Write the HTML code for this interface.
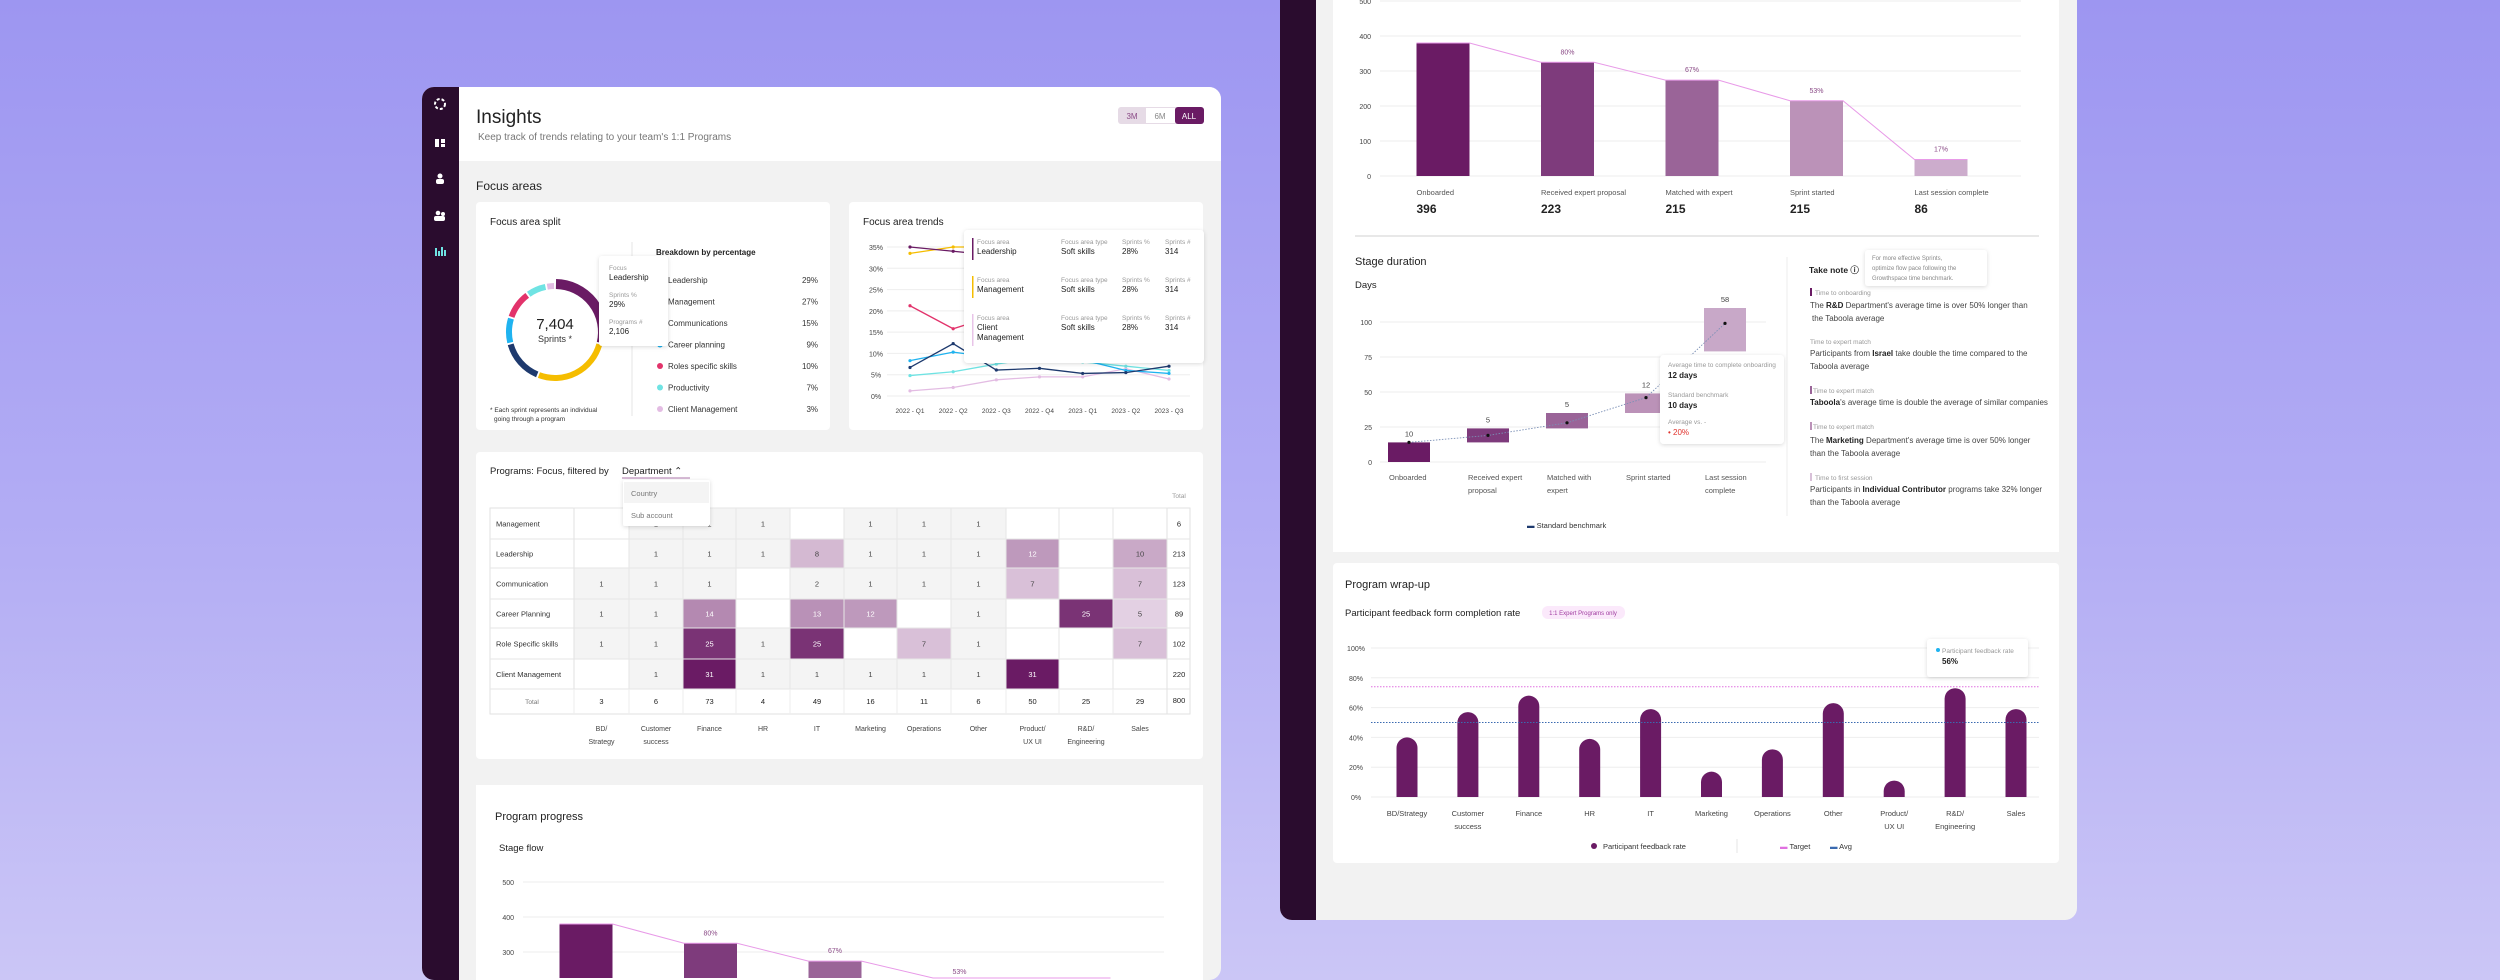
<!DOCTYPE html>
<html><head><meta charset="utf-8">
<style>
html,body{margin:0;padding:0;width:2500px;height:980px;overflow:hidden;}
body{background:linear-gradient(180deg,#9d96f1 0%,#b3adf4 55%,#cbc6f6 100%);font-family:"Liberation Sans",sans-serif;}
svg{display:block;}
svg text{font-family:"Liberation Sans",sans-serif;}
</style></head>
<body>
<svg id="root" width="2500" height="980" viewBox="0 0 2500 980" xmlns="http://www.w3.org/2000/svg">
<defs>
<filter id="sh" x="-20%" y="-20%" width="140%" height="140%"><feDropShadow dx="0" dy="1" stdDeviation="2" flood-color="#000" flood-opacity="0.15"/></filter>
<clipPath id="clipL"><rect x="422" y="87" width="799" height="893" rx="12"/></clipPath>
<clipPath id="clipR"><rect x="1280" y="-20" width="797" height="940" rx="12"/></clipPath>
</defs>
<!-- LEFT PANEL -->
<g clip-path="url(#clipL)">
<rect x="422" y="87" width="799" height="893" fill="#f2f2f2"/>
<rect x="422" y="87" width="37" height="893" fill="#2a0c2e"/>
<rect x="459" y="87" width="762" height="74" fill="#ffffff"/>
</g>
<g>
<circle cx="440" cy="104" r="5" fill="none" stroke="#fff" stroke-width="2" stroke-dasharray="3 2"/>
<g fill="#fff"><rect x="435" y="139" width="4" height="8"/><rect x="441" y="139" width="4" height="4"/><rect x="441" y="144" width="4" height="3"/></g>
<g fill="#fff"><circle cx="440" cy="176" r="2.5"/><rect x="436" y="179" width="8" height="5" rx="2"/></g>
<g fill="#fff"><circle cx="438" cy="213" r="2.3"/><circle cx="443" cy="214" r="2"/><rect x="434" y="216" width="11" height="5" rx="2"/></g>
<g fill="#6fe3e3"><rect x="435" y="248" width="2" height="8"/><rect x="438" y="251" width="2" height="5"/><rect x="441" y="247" width="2" height="9"/><rect x="444" y="250" width="2" height="6"/></g>
</g>
<text x="476" y="123" font-size="19" fill="#222">Insights</text>
<text x="478" y="140" font-size="10" fill="#777">Keep track of trends relating to your team's 1:1 Programs</text>
<g>
<rect x="1118" y="107" width="86" height="17" rx="3" fill="#e6dbe6"/>
<rect x="1146" y="108" width="29" height="15" fill="#fff"/>
<rect x="1175" y="107" width="29" height="17" rx="3" fill="#6a1b64"/>
<text x="1132" y="119" font-size="8" fill="#8a4a86" text-anchor="middle">3M</text>
<text x="1160" y="119" font-size="8" fill="#888" text-anchor="middle">6M</text>
<text x="1189" y="119" font-size="8" fill="#fff" text-anchor="middle">ALL</text>
</g>
<text x="476" y="190" font-size="12" fill="#222">Focus areas</text>

<rect x="476" y="202" width="354" height="228" rx="4" fill="#fff"/>
<rect x="849" y="202" width="354" height="228" rx="4" fill="#fff"/>
<rect x="476" y="452" width="727" height="307" rx="4" fill="#fff"/>
<rect x="476" y="785" width="727" height="195" fill="#fff"/>

<text x="490" y="225" font-size="10" fill="#222">Focus area split</text>
<text x="863" y="225" font-size="10" fill="#222">Focus area trends</text>
<line x1="632" y1="242" x2="632" y2="416" stroke="#e6e6e6"/>
<text x="656" y="255" font-size="8" font-weight="bold" fill="#222">Breakdown by percentage</text>
<text x="490" y="412" font-size="6.5" fill="#333">* Each sprint represents an individual</text>
<text x="494" y="421" font-size="6.5" fill="#333">going through a program</text>
<g id="donut"></g>
<g id="legendList"></g>
<text x="555" y="329" font-size="15" fill="#222" text-anchor="middle">7,404</text>
<text x="555" y="342" font-size="9" fill="#333" text-anchor="middle">Sprints *</text>
<g filter="url(#sh)">
<rect x="599" y="256" width="69" height="90" rx="3" fill="#fff"/>
</g>
<text x="609" y="270" font-size="6.5" fill="#999">Focus</text>
<text x="609" y="280" font-size="8" fill="#222">Leadership</text>
<text x="609" y="297" font-size="6.5" fill="#999">Sprints %</text>
<text x="609" y="307" font-size="8" fill="#222">29%</text>
<text x="609" y="324" font-size="6.5" fill="#999">Programs #</text>
<text x="609" y="334" font-size="8" fill="#222">2,106</text>

<g id="trend"></g>
<g filter="url(#sh)"><rect x="964" y="230" width="240" height="133" rx="4" fill="#fff"/></g>
<g font-size="6.5" fill="#999">
<rect x="972" y="238" width="1.5" height="22" fill="#6a1b64"/><text x="977" y="244">Focus area</text><text x="1061" y="244">Focus area type</text><text x="1122" y="244">Sprints %</text><text x="1165" y="244">Sprints #</text>
<text x="977" y="254" font-size="8" fill="#222">Leadership</text><text x="1061" y="254" font-size="8" fill="#222">Soft skills</text><text x="1122" y="254" font-size="8" fill="#222">28%</text><text x="1165" y="254" font-size="8" fill="#222">314</text>
<rect x="972" y="276" width="1.5" height="22" fill="#f5bd00"/><text x="977" y="282">Focus area</text><text x="1061" y="282">Focus area type</text><text x="1122" y="282">Sprints %</text><text x="1165" y="282">Sprints #</text>
<text x="977" y="292" font-size="8" fill="#222">Management</text><text x="1061" y="292" font-size="8" fill="#222">Soft skills</text><text x="1122" y="292" font-size="8" fill="#222">28%</text><text x="1165" y="292" font-size="8" fill="#222">314</text>
<rect x="972" y="314" width="1.5" height="32" fill="#e8c4e8"/><text x="977" y="320">Focus area</text><text x="1061" y="320">Focus area type</text><text x="1122" y="320">Sprints %</text><text x="1165" y="320">Sprints #</text>
<text x="977" y="330" font-size="8" fill="#222">Client</text><text x="977" y="340" font-size="8" fill="#222">Management</text><text x="1061" y="330" font-size="8" fill="#222">Soft skills</text><text x="1122" y="330" font-size="8" fill="#222">28%</text><text x="1165" y="330" font-size="8" fill="#222">314</text>
</g>

<text x="490" y="474" font-size="9.5" fill="#222">Programs: Focus, filtered by</text>
<text x="622" y="474" font-size="9.5" fill="#222">Department ⌃</text>
<line x1="622" y1="478" x2="690" y2="478" stroke="#c9a4c7" stroke-width="1.5"/>
<text x="1179" y="498" font-size="6.5" fill="#999" text-anchor="middle">Total</text>
<g id="heat"></g>
<g filter="url(#sh)"><rect x="623" y="480" width="87" height="46" rx="2" fill="#fff"/></g>
<rect x="624" y="482" width="85" height="21" fill="#f4f4f4"/>
<text x="631" y="496" font-size="7.5" fill="#777">Country</text>
<text x="631" y="518" font-size="7.5" fill="#777">Sub account</text>

<text x="495" y="820" font-size="11" fill="#222">Program progress</text>
<text x="499" y="851" font-size="9.5" fill="#222">Stage flow</text>
<g id="flowL"></g>

<!-- RIGHT PANEL -->
<g clip-path="url(#clipR)">
<rect x="1280" y="-20" width="797" height="940" fill="#f2f2f2"/>
<rect x="1280" y="-20" width="36" height="940" fill="#2a0c2e"/>
<rect x="1333" y="-10" width="726" height="562" fill="#fff"/>
<rect x="1333" y="563" width="726" height="300" rx="4" fill="#fff"/>
</g>
<g id="flowR"></g>
<line x1="1355" y1="236" x2="2039" y2="236" stroke="#e8e8e8" stroke-width="2"/>
<text x="1355" y="265" font-size="11" fill="#222">Stage duration</text>
<text x="1355" y="288" font-size="9.5" fill="#222">Days</text>
<g id="dur"></g>
<g filter="url(#sh)"><rect x="1660" y="355" width="124" height="89" rx="4" fill="#fff"/></g>
<text x="1668" y="367" font-size="6.5" fill="#999">Average time to complete onboarding</text>
<text x="1668" y="378" font-size="8" font-weight="bold" fill="#222">12 days</text>
<text x="1668" y="397" font-size="6.5" fill="#999">Standard benchmark</text>
<text x="1668" y="408" font-size="8" font-weight="bold" fill="#222">10 days</text>
<text x="1668" y="424" font-size="6.5" fill="#999">Average vs. -</text>
<text x="1668" y="435" font-size="8" fill="#e0312b">• 20%</text>
<text x="1527" y="528" font-size="7.5" fill="#333"><tspan fill="#1e3a6e">▬ </tspan>Standard benchmark</text>
<line x1="1787" y1="257" x2="1787" y2="516" stroke="#ececec"/>
<text x="1809" y="273" font-size="8.5" font-weight="bold" fill="#222">Take note ⓘ</text>
<g filter="url(#sh)"><rect x="1865" y="250" width="122" height="36" rx="3" fill="#fff"/></g>
<g font-size="6" fill="#888"><text x="1872" y="260">For more effective Sprints,</text><text x="1872" y="270">optimize flow pace following the</text><text x="1872" y="280">Growthspace time benchmark.</text></g>
<g id="notes" font-size="8" fill="#444">
<rect x="1810" y="288" width="2" height="8" fill="#6a1b64"/><text x="1815" y="295" font-size="6.5" fill="#999">Time to onboarding</text>
<text x="1810" y="308">The <tspan font-weight="bold" fill="#222">R&amp;D</tspan> Department's average time is over 50% longer than</text>
<text x="1812" y="321">the Taboola average</text>
<text x="1810" y="344" font-size="6.5" fill="#999">Time to expert match</text>
<text x="1810" y="356">Participants from <tspan font-weight="bold" fill="#222">Israel</tspan> take double the time compared to the</text>
<text x="1810" y="369">Taboola average</text>
<rect x="1810" y="386" width="2" height="8" fill="#9a6498"/><text x="1813" y="393" font-size="6.5" fill="#999">Time to expert match</text>
<text x="1810" y="405"><tspan font-weight="bold" fill="#222">Taboola</tspan>'s average time is double the average of similar companies</text>
<rect x="1810" y="422" width="2" height="8" fill="#bb92b8"/><text x="1813" y="429" font-size="6.5" fill="#999">Time to expert match</text>
<text x="1810" y="443">The <tspan font-weight="bold" fill="#222">Marketing</tspan> Department's average time is over 50% longer</text>
<text x="1810" y="456">than the Taboola average</text>
<rect x="1810" y="473" width="2" height="8" fill="#d8c0d8"/><text x="1815" y="480" font-size="6.5" fill="#999">Time to first session</text>
<text x="1810" y="492">Participants in <tspan font-weight="bold" fill="#222">Individual Contributor</tspan> programs take 32% longer</text>
<text x="1810" y="505">than the Taboola average</text>
</g>

<text x="1345" y="588" font-size="11" fill="#222">Program wrap-up</text>
<text x="1345" y="616" font-size="9.5" fill="#222">Participant feedback form completion rate</text>
<rect x="1542" y="606" width="83" height="13" rx="6" fill="#fbe9fb"/>
<text x="1583" y="615" font-size="6" fill="#a03da0" text-anchor="middle">1:1 Expert Programs only</text>
<g id="wrap"></g>
<g filter="url(#sh)"><rect x="1927" y="639" width="101" height="38" rx="3" fill="#fff"/></g>
<circle cx="1938" cy="650" r="2" fill="#1fb3f0"/>
<text x="1942" y="653" font-size="6.5" fill="#999">Participant feedback rate</text>
<text x="1942" y="664" font-size="8" font-weight="bold" fill="#222">56%</text>
<g>
<circle cx="1594" cy="846" r="3" fill="#6a1b64"/>
<text x="1603" y="849" font-size="7.5" fill="#333">Participant feedback rate</text>
<line x1="1737" y1="839" x2="1737" y2="853" stroke="#e4e4e4"/>
<text x="1780" y="849" font-size="7.5" fill="#333"><tspan fill="#e070e0">▬ </tspan>Target</text>
<text x="1830" y="849" font-size="7.5" fill="#333"><tspan fill="#3a6ab0">▬ </tspan>Avg</text>
</g>
</svg>

<script>
const NS='http://www.w3.org/2000/svg';
function mk(parent,tag,attrs,txt){const e=document.createElementNS(NS,tag);for(const k in attrs)e.setAttribute(k,attrs[k]);if(txt!==undefined)e.textContent=txt;parent.appendChild(e);return e;}

// ---- Donut data ----
const focusNames=['Leadership','Management','Communications','Career planning','Roles specific skills','Productivity','Client Management'];
const focusPct=[29,27,15,9,10,7,3];
const focusColors=['#6a1b64','#f5bd00','#1e3a6e','#1fb3f0','#e2336b','#6fe3e3','#e3bce3'];
const donutOrder=[0,1,2,3,4,5,6];

// ---- Trend data ----
const quarters=['2022 - Q1','2022 - Q2','2022 - Q3','2022 - Q4','2023 - Q1','2023 - Q2','2023 - Q3'];
const trendTicks=[0,5,10,15,20,25,30,35];
const sLeadership=[35,34,33,31,30,29,28];
const sManagement=[33.5,35,35,34,33,32,31];
const sRoles=[21.2,15.8,19,20,19,18,17];
const sComms=[6.7,12.3,6.1,6.5,5.3,5.5,7];
const sCareer=[8.3,10.3,9,11,8.5,6,5.3];
const sProductivity=[4.8,5.7,7.5,9,8,7,6];
const sClient=[1.2,2,3.8,4.5,4.5,6.4,4];

// ---- Heatmap data ----
const heatRows=['Management','Leadership','Communication','Career Planning','Role Specific skills','Client Management'];
const heatCols=['BD/|Strategy','Customer|success','Finance','HR','IT','Marketing','Operations','Other','Product/|UX UI','R&D/|Engineering','Sales'];
const heatVals=[
[0,1,1,1,0,1,1,1,0,0,0],
[0,1,1,1,8,1,1,1,12,0,10],
[1,1,1,0,2,1,1,1,7,0,7],
[1,1,14,0,13,12,0,1,0,25,5],
[1,1,25,1,25,0,7,1,0,0,7],
[0,1,31,1,1,1,1,1,31,0,0]];
const rowTotals=[6,213,123,89,102,220];
const colTotals=[3,6,73,4,49,16,11,6,50,25,29];
const grandTotal=800;

// ---- Stage flow data ----
const flowStages=['Onboarded','Received expert proposal','Matched with expert','Sprint started','Last session complete'];
const flowValues=[380,325,274,215,47];
const flowCounts=[396,223,215,215,86];
const flowPct=['','80%','67%','53%','17%'];
const flowTicks=[0,100,200,300,400,500];
const flowColors=['#6a1b64','#7e3b7c','#9a6498','#bb92b8','#ccaccc'];

// ---- Stage duration data ----
const durStages=['Onboarded|','Received expert|proposal','Matched with|expert','Sprint started|','Last session|complete'];
const durStart=[0,14,24,35,79];
const durEnd=[14,24,35,49,110];
const durLabels=[10,5,5,12,58];
const durBench=[14,19,28,46,99];
const durTicks=[0,25,50,75,100];

// ---- Wrap-up data ----
const wrapCats=['BD/Strategy','Customer|success','Finance','HR','IT','Marketing','Operations','Other','Product/|UX UI','R&D/|Engineering','Sales'];
const wrapVals=[40,57,68,39,59,17,32,63,11,73,59];
const wrapTicks=[0,20,40,60,80,100];
const wrapTarget=74;
const wrapAvg=50;

// ===== Donut =====
(function(){
const g=document.getElementById('donut');const cx=555,cy=332;
let a=0;const total=focusPct.reduce((s,v)=>s+v,0);
donutOrder.forEach(i=>{
 const sweep=focusPct[i]/total*Math.PI*2;const gap=0.04;
 const a0=a+gap/2,a1=a+sweep-gap/2;const r=i===0?48:46;
 const x0=cx+r*Math.sin(a0),y0=cy-r*Math.cos(a0),x1=cx+r*Math.sin(a1),y1=cy-r*Math.cos(a1);
 const p=mk(g,'path',{d:`M${x0} ${y0} A${r} ${r} 0 ${sweep>Math.PI?1:0} 1 ${x1} ${y1}`,fill:'none',stroke:focusColors[i],'stroke-width':i===0?10:6});
 
 
 a+=sweep;});
const L=document.getElementById('legendList');
focusNames.forEach((n,i)=>{const y=283+i*21.5;
 const c=mk(L,'circle',{cx:660,cy:y-3,r:3,fill:focusColors[i]});
 
 
 const t=mk(L,'text',{x:668,y:y,'font-size':8,fill:'#333'},n);
 
 
 const p=mk(L,'text',{x:818,y:y,'font-size':8,fill:'#333','text-anchor':'end'},focusPct[i]+'%');
 
 });
})();

// ===== Trend line chart =====
(function(){
const g=document.getElementById('trend');
const x=i=>910+i*(1169-910)/(quarters.length-1);const y=v=>396-v*(149/35);
trendTicks.forEach(t=>{const l=mk(g,'line',{x1:887,x2:1190,y1:y(t),y2:y(t),stroke:'#eeeeee'});
 
 
 const tx=mk(g,'text',{x:876,y:y(t)+3,'font-size':7,fill:'#444','text-anchor':'middle'},t+'%');
 
 });
quarters.forEach((q,i)=>{const t=mk(g,'text',{x:x(i),y:413,'font-size':6.5,fill:'#444','text-anchor':'middle'},q);
 
 });
const series=[[sClient,'#e3bce3'],[sProductivity,'#6fe3e3'],[sCareer,'#1fb3f0'],[sComms,'#1e3a6e'],[sRoles,'#e2336b'],[sManagement,'#f5bd00'],[sLeadership,'#6a1b64']];
series.forEach(([d,c])=>{const pl=mk(g,'polyline',{points:d.map((v,i)=>x(i)+','+y(v)).join(' '),fill:'none',stroke:c,'stroke-width':1.3});
 
 
 d.forEach((v,i)=>{const p=mk(g,'circle',{cx:x(i),cy:y(v),r:1.6,fill:c});
  
  });});
})();

// ===== Heatmap =====
(function(){
const g=document.getElementById('heat');
const colX=[574,629,683,736,790,844,897,951,1006,1059,1113,1167];
const rowY=[508,539,568,599,628,659,689,714];
function col(v){if(v===0)return '#ffffff';if(v<=2)return '#f4f4f4';const t=Math.min((v-3)/25,1);
 const a=[238,224,238],b=[106,27,100];return `rgb(${a.map((c,k)=>Math.round(c+(b[k]-c)*t)).join(',')})`;}
mk(g,'rect',{x:490,y:508,width:700,height:206,fill:'#fff',stroke:'#e2e2e2'});
heatRows.forEach((r,ri)=>{
 const lb=mk(g,'text',{x:496,y:(rowY[ri]+rowY[ri+1])/2+3,'font-size':7.5,fill:'#333'},r);
 
 
 heatVals[ri].forEach((v,ci)=>{
  const c=mk(g,'rect',{x:colX[ci],y:rowY[ri],width:colX[ci+1]-colX[ci],height:rowY[ri+1]-rowY[ri],fill:col(v),stroke:'#e6e6e6'});
  
  
  if(v>0){const t=mk(g,'text',{x:(colX[ci]+colX[ci+1])/2,y:(rowY[ri]+rowY[ri+1])/2+3,'font-size':7.5,fill:v>=12?'#fff':'#444','text-anchor':'middle'},v);
   
   }});
 const tt=mk(g,'text',{x:1179,y:(rowY[ri]+rowY[ri+1])/2+3,'font-size':7.5,fill:'#222','text-anchor':'middle'},rowTotals[ri]);
 
 
 mk(g,'line',{x1:490,x2:1190,y1:rowY[ri+1],y2:rowY[ri+1],stroke:'#e6e6e6'});});
mk(g,'line',{x1:574,x2:574,y1:508,y2:714,stroke:'#e2e2e2'});
mk(g,'line',{x1:1167,x2:1167,y1:508,y2:714,stroke:'#e2e2e2'});
const tl=mk(g,'text',{x:532,y:704,'font-size':6.5,fill:'#777','text-anchor':'middle'},'Total');


colTotals.forEach((v,ci)=>{const t=mk(g,'text',{x:(colX[ci]+colX[ci+1])/2,y:704,'font-size':7.5,fill:'#222','text-anchor':'middle'},v);
 
 
 mk(g,'line',{x1:colX[ci],x2:colX[ci],y1:689,y2:714,stroke:'#eeeeee'});});
const gt=mk(g,'text',{x:1179,y:703,'font-size':7.5,fill:'#222','text-anchor':'middle'},grandTotal);


heatCols.forEach((c,ci)=>{c.split('|').forEach((ln,k)=>{const t=mk(g,'text',{x:(colX[ci]+colX[ci+1])/2,y:731+k*13,'font-size':7,fill:'#444','text-anchor':'middle'},ln);
 
 });});
})();

// ===== Stage flow (both panels) =====
function drawFlow(id,x0,y0,showLabels){
const g=document.getElementById(id);
const FLOOR=978;
const y=v=>y0-v*0.35;const cx=i=>x0+63+i*124.5;const bw=53;
const base=Math.min(y0,FLOOR);
flowTicks.forEach(t=>{if(y(t)>FLOOR)return;
 const l=mk(g,'line',{x1:x0,x2:x0+641,y1:y(t),y2:y(t),stroke:'#eeeeee'});
 
 
 const tx=mk(g,'text',{x:x0-9,y:y(t)+3,'font-size':7,fill:'#444','text-anchor':'end'},t);
 
 });
const pts=[];
flowValues.forEach((v,i)=>{const top=y(v);
 if(top<base){const b=mk(g,'rect',{x:cx(i)-bw/2,y:top,width:bw,height:base-top,fill:flowColors[i]});
  
  }
 pts.push((cx(i)-bw/2)+','+Math.min(top,FLOOR),(cx(i)+bw/2)+','+Math.min(top,FLOOR));
 if(flowPct[i]&&top-8<FLOOR){const p=mk(g,'text',{x:cx(i),y:top-8,'font-size':7,fill:'#8a4a86','text-anchor':'middle'},flowPct[i]);
  
  }
 if(showLabels){const s=mk(g,'text',{x:cx(i)-bw/2,y:y0+19,'font-size':7.5,fill:'#555'},flowStages[i]);
  
  
  const n=mk(g,'text',{x:cx(i)-bw/2,y:y0+37,'font-size':12,'font-weight':'bold',fill:'#222'},flowCounts[i]);
  
  }});
const pl=mk(g,'polyline',{points:pts.join(' '),fill:'none',stroke:'#e89ae8','stroke-width':1});


}
drawFlow('flowL',523,1057,false);
drawFlow('flowR',1380,176,true);

// ===== Stage duration =====
(function(){
const g=document.getElementById('dur');
const y=v=>462-v*1.4;const cx=i=>1409+i*79;const bw=42;
const cols=['#6a1b64','#7e3b7c','#9a6498','#bb92b8','#c8a8c8'];
durTicks.forEach(t=>{const l=mk(g,'line',{x1:1380,x2:1766,y1:y(t),y2:y(t),stroke:'#eeeeee'});
 
 
 const tx=mk(g,'text',{x:1372,y:y(t)+3,'font-size':7,fill:'#444','text-anchor':'end'},t);
 
 });
durStages.forEach((s,i)=>{
 const b=mk(g,'rect',{x:cx(i)-bw/2,y:y(durEnd[i]),width:bw,height:(durEnd[i]-durStart[i])*1.4,fill:cols[i]});
 
 
 const lb=mk(g,'text',{x:cx(i),y:y(durEnd[i])-6,'font-size':7.5,fill:'#444','text-anchor':'middle'},durLabels[i]);
 
 
 s.split('|').forEach((ln,k)=>{const t=mk(g,'text',{x:cx(i)-bw/2+1,y:480+k*13,'font-size':7.5,fill:'#555'},ln);
  
  });});
const bl=mk(g,'polyline',{points:durBench.map((v,i)=>cx(i)+','+y(v)).join(' '),fill:'none',stroke:'#7a8fb5','stroke-width':0.9,'stroke-dasharray':'1.5 1.5'});


durBench.forEach((v,i)=>{const p=mk(g,'circle',{cx:cx(i),cy:y(v),r:1.6,fill:'#111'});
 
 });
})();

// ===== Wrap-up bars =====
(function(){
const g=document.getElementById('wrap');
const y=v=>797-v*1.49;const cx=i=>1407+i*(2016-1407)/(wrapCats.length-1);const bw=21;
wrapTicks.forEach(t=>{const l=mk(g,'line',{x1:1371,x2:2039,y1:y(t),y2:y(t),stroke:'#eeeeee'});
 
 
 const tx=mk(g,'text',{x:1356,y:y(t)+3,'font-size':7,fill:'#444','text-anchor':'middle'},t+'%');
 
 });
wrapCats.forEach((c,i)=>{const v=wrapVals[i];const top=y(v),x0=cx(i)-bw/2,r=bw/2;
 const b=mk(g,'path',{d:`M${x0} 797 L${x0} ${top+r} A${r} ${r} 0 0 1 ${x0+bw} ${top+r} L${x0+bw} 797 Z`,fill:'#6a1b64'});
 
 
 c.split('|').forEach((ln,k)=>{const t=mk(g,'text',{x:cx(i),y:816+k*13,'font-size':7.5,fill:'#444','text-anchor':'middle'},ln);
  
  });});
const tg=mk(g,'line',{x1:1371,x2:2039,y1:y(wrapTarget),y2:y(wrapTarget),stroke:'#e070e0','stroke-width':0.9,'stroke-dasharray':'1.5 1.5'});


const av=mk(g,'line',{x1:1371,x2:2039,y1:y(wrapAvg),y2:y(wrapAvg),stroke:'#3a6ab0','stroke-width':0.9,'stroke-dasharray':'1.5 1.5'});


})();
</script>
</body></html>
